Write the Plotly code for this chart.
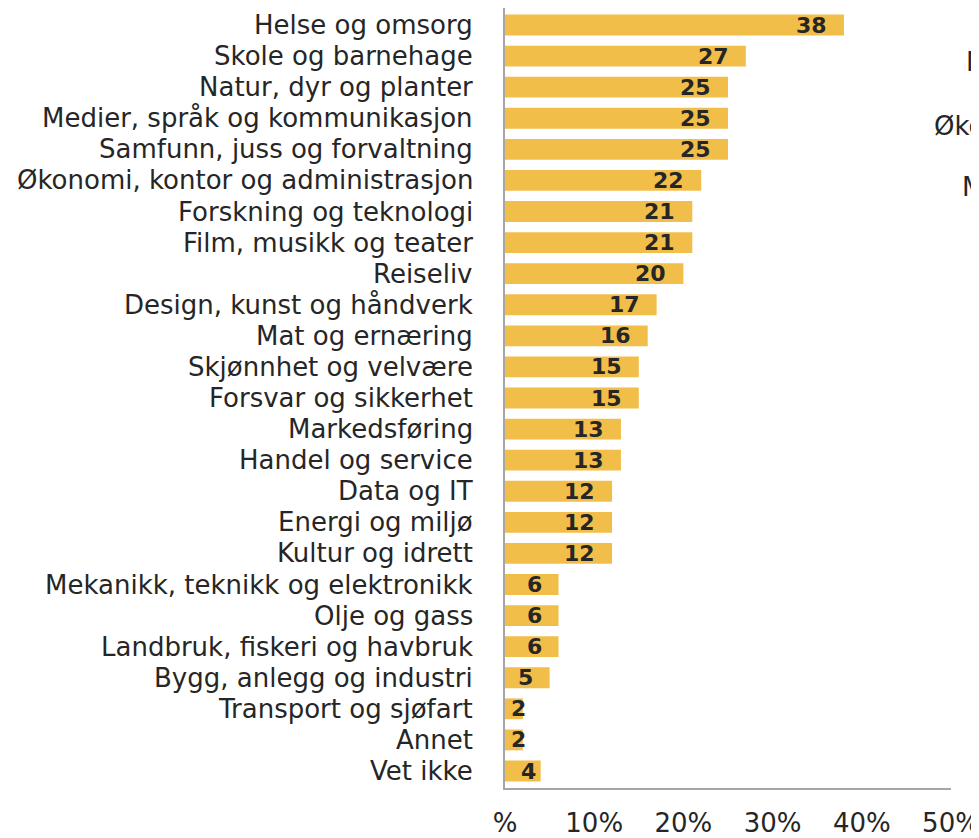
import plotly.graph_objects as go

categories = [
    "Helse og omsorg", "Skole og barnehage", "Natur, dyr og planter",
    "Medier, språk og kommunikasjon", "Samfunn, juss og forvaltning",
    "Økonomi, kontor og administrasjon", "Forskning og teknologi",
    "Film, musikk og teater", "Reiseliv", "Design, kunst og håndverk",
    "Mat og ernæring", "Skjønnhet og velvære", "Forsvar og sikkerhet",
    "Markedsføring", "Handel og service", "Data og IT", "Energi og miljø",
    "Kultur og idrett", "Mekanikk, teknikk og elektronikk", "Olje og gass",
    "Landbruk, fiskeri og havbruk", "Bygg, anlegg og industri",
    "Transport og sjøfart", "Annet", "Vet ikke",
]
values = [38, 27, 25, 25, 25, 22, 21, 21, 20, 17, 16, 15, 15, 13, 13, 12, 12, 12, 6, 6, 6, 5, 2, 2, 4]
tick_vals = [0, 10, 20, 30, 40, 50]
tick_text = ["%", "10%", "20%", "30%", "40%", "50%"]
side_texts = ["Mat", "Økonomi", "Mekanikk"]

FONT = "DejaVu Sans"
LBL = 26
W, H = 979, 838
OFF = 8  # default page body margin in the written html
PL, PR, PT, PB = 505, 951, 8, 788  # plot area on the page

fig = go.Figure()
fig.add_trace(go.Bar(
    y=categories, x=values, orientation="h",
    marker=dict(color="#F2BE4A", line=dict(width=0)),
    hoverinfo="skip",
))

annotations = []
# category labels (as annotations so none are auto-hidden)
for c in categories:
    annotations.append(dict(x=0, y=c, xref="x", yref="y", text=c,
                            showarrow=False, xanchor="right", xshift=-30,
                            font=dict(family=FONT, size=LBL, color="#262626")))
# value labels
for c, v in zip(categories, values):
    if v >= 5:
        annotations.append(dict(x=v, y=c, xref="x", yref="y", text=f"<b>{v}</b>",
                                showarrow=False, xanchor="right", xshift=-15,
                                font=dict(family=FONT, size=22, color="#262626")))
    else:
        annotations.append(dict(x=0, y=c, xref="x", yref="y", text=f"<b>{v}</b>",
                                showarrow=False, xanchor="left", xshift=4 + (v - 2) * 5,
                                font=dict(family=FONT, size=22, color="#262626")))

# partly visible labels at the right edge (cut off in the original)
side_pos = [(967, 62), (935, 126), (963, 187)]
for t, (px, py) in zip(side_texts, side_pos):
    annotations.append(dict(x=(px - PL) / (PR - PL), y=1 - (py - PT) / (PB - PT),
                            xref="paper", yref="paper", xshift=-3,
                            text=t, showarrow=False, xanchor="left", yanchor="middle",
                            font=dict(family=FONT, size=LBL, color="#262626")))

fig.update_layout(
    width=W, height=H,
    margin=dict(l=PL - OFF, r=W - (PR - OFF), t=PT - OFF, b=H - (PB - OFF), autoexpand=False),
    paper_bgcolor="white", plot_bgcolor="white",
    bargap=0.33,
    showlegend=False,
    annotations=annotations,
    font=dict(family=FONT, size=LBL, color="#262626"),
    xaxis=dict(range=[0, 50], tickvals=tick_vals, ticktext=tick_text,
               showgrid=False, zeroline=False, showline=True,
               linecolor="#A6A6A6", linewidth=2, ticks="",
               ticklabelstandoff=11,
               tickfont=dict(family=FONT, size=LBL, color="#262626")),
    yaxis=dict(autorange="reversed", showgrid=False, zeroline=False,
               showline=True, linecolor="#A6A6A6", linewidth=2, ticks="",
               showticklabels=False),
)
fig.write_html("out.html")
